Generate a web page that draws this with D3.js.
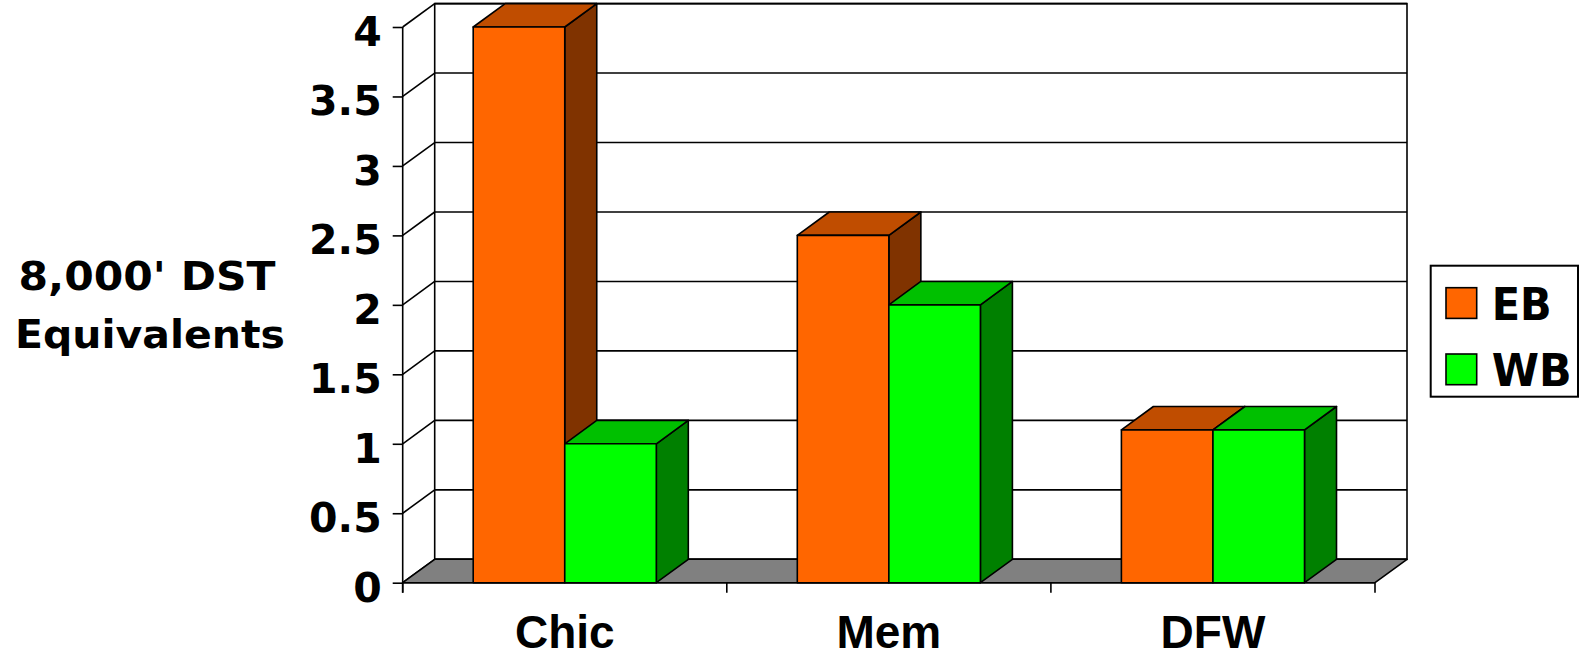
<!DOCTYPE html>
<html>
<head>
<meta charset="utf-8">
<script src="https://cdn.jsdelivr.net/npm/d3@7"></script>
<style>
  html, body { margin: 0; padding: 0; background: #fff; }
  svg { display: block; }
</style>
</head>
<body>
<svg id="chart" width="1579" height="658"></svg>
<script>
// Chart data
const categories = ["Chic", "Mem", "DFW"];
const seriesNames = ["EB", "WB"];
const ebValues = [4, 2.5, 1.1];
const wbValues = [1, 2, 1.1];
const tickValues = [0, 0.5, 1, 1.5, 2, 2.5, 3, 3.5, 4];
const yTitleLines = ["8,000' DST", "Equivalents"];

// Face colours per series: front, top, side
const palette = {
  EB: { front: "#FF6600", top: "#C04D00", side: "#803300" },
  WB: { front: "#00FF00", top: "#00C000", side: "#008000" }
};

const values = { EB: ebValues, WB: wbValues };

const svg = d3.select("#chart");

// Front plane of the 3-D box
const plotLeft = 402.7, plotRight = 1375, plotBase = 582.7, plotTop = 27;
// Depth offset of the back wall
const dx = 32, dy = -23.4;

const y = d3.scaleLinear().domain([0, 4]).range([plotBase, plotTop]);
const x0 = d3.scaleBand().domain(categories).range([plotLeft, plotRight]).padding(0);
const x1 = d3.scaleBand().domain(seriesNames).range([0, x0.bandwidth()])
  .paddingInner(0).paddingOuter(0.77);

const poly = (pts) => "M" + pts.map(p => p.join(",")).join("L") + "Z";

// Back wall
svg.append("rect")
  .attr("x", plotLeft + dx).attr("y", y(4) + dy)
  .attr("width", plotRight - plotLeft).attr("height", y(0) - y(4))
  .attr("fill", "#fff").attr("stroke", "#000").attr("stroke-width", 1.6);

// Gridlines on the back wall and matching lines on the side wall
const grid = svg.append("g").attr("stroke", "#000").attr("stroke-width", 1.6);
tickValues.forEach(v => {
  grid.append("line")
    .attr("x1", plotLeft + dx).attr("x2", plotRight + dx)
    .attr("y1", y(v) + dy).attr("y2", y(v) + dy);
  grid.append("line")
    .attr("x1", plotLeft).attr("y1", y(v))
    .attr("x2", plotLeft + dx).attr("y2", y(v) + dy);
});

// Floor
svg.append("path")
  .attr("d", poly([[plotLeft, plotBase], [plotRight, plotBase], [plotRight + dx, plotBase + dy], [plotLeft + dx, plotBase + dy]]))
  .attr("fill", "#808080").attr("stroke", "#000").attr("stroke-width", 1.6)
  .attr("stroke-linejoin", "round");

// 3-D columns
const bars = svg.append("g").attr("stroke", "#000").attr("stroke-width", 1.6)
  .attr("stroke-linejoin", "round");
categories.forEach((c, i) => {
  seriesNames.forEach(s => {
    const v = values[s][i];
    const xl = x0(c) + x1(s);
    const xr = xl + x1.bandwidth();
    const yt = y(v), yb = y(0);
    const col = palette[s];
    bars.append("path")
      .attr("d", poly([[xr, yb], [xr + dx, yb + dy], [xr + dx, yt + dy], [xr, yt]]))
      .attr("fill", col.side);
    bars.append("path")
      .attr("d", poly([[xl, yt], [xr, yt], [xr + dx, yt + dy], [xl + dx, yt + dy]]))
      .attr("fill", col.top);
    bars.append("rect")
      .attr("x", xl).attr("y", yt)
      .attr("width", xr - xl).attr("height", yb - yt)
      .attr("fill", col.front);
  });
});

// Value axis
const yAxis = svg.append("g")
  .attr("transform", `translate(${plotLeft},0)`)
  .call(d3.axisLeft(y).tickValues(tickValues).tickFormat(d3.format("~g"))
    .tickSize(10).tickSizeOuter(0).tickPadding(11));
yAxis.select(".domain").remove();
yAxis.selectAll(".tick line").attr("stroke", "#000").attr("stroke-width", 1.6);
yAxis.selectAll(".tick text")
  .attr("dy", "0.45em")
  .attr("fill", "#000")
  .style("font-family", "'DejaVu Sans', Verdana, sans-serif")
  .style("font-weight", "bold")
  .style("font-size", "41px");
svg.append("line")
  .attr("x1", plotLeft).attr("x2", plotLeft)
  .attr("y1", y(4)).attr("y2", plotBase + 10)
  .attr("stroke", "#000").attr("stroke-width", 1.6);

// Category axis
const xAxis = svg.append("g")
  .attr("transform", `translate(0,${plotBase})`);
xAxis.append("line")
  .attr("x1", plotLeft).attr("x2", plotRight)
  .attr("stroke", "#000").attr("stroke-width", 1.6);
const boundaries = categories.map(c => x0(c)).concat([plotRight]);
xAxis.selectAll("line.tk").data(boundaries).join("line")
  .attr("class", "tk")
  .attr("x1", d => d).attr("x2", d => d)
  .attr("y1", 0).attr("y2", 10)
  .attr("stroke", "#000").attr("stroke-width", 1.6);
xAxis.selectAll("text").data(categories).join("text")
  .attr("x", d => x0(d) + x0.bandwidth() / 2)
  .attr("y", 65.5)
  .attr("text-anchor", "middle")
  .style("font-family", "'Liberation Sans', Arial, sans-serif")
  .style("font-weight", "bold")
  .style("font-size", "46px")
  .text(d => d);

// Value axis title
const title = svg.append("g")
  .style("font-family", "'DejaVu Sans', Verdana, sans-serif")
  .style("font-weight", "bold")
  .style("font-size", "39px");
const titleLengths = [257, 270];
const titleCenters = [147, 150];
const titleBaselines = [290, 348];
yTitleLines.forEach((t, i) => {
  title.append("text")
    .attr("x", titleCenters[i]).attr("y", titleBaselines[i])
    .attr("text-anchor", "middle")
    .attr("textLength", titleLengths[i])
    .attr("lengthAdjust", "spacingAndGlyphs")
    .text(t);
});

// Legend
const legend = svg.append("g");
legend.append("rect")
  .attr("x", 1430.7).attr("y", 265.7)
  .attr("width", 147.3).attr("height", 131)
  .attr("fill", "#fff").attr("stroke", "#000").attr("stroke-width", 2);
const legendLengths = [60, 80];
seriesNames.forEach((s, i) => {
  const yy = 287.7 + i * 66.3;
  legend.append("rect")
    .attr("x", 1446).attr("y", yy)
    .attr("width", 30.7).attr("height", 30.7)
    .attr("fill", palette[s].front).attr("stroke", "#000").attr("stroke-width", 1.6);
  legend.append("text")
    .attr("x", 1491.7).attr("y", yy + 32.3)
    .attr("textLength", legendLengths[i])
    .attr("lengthAdjust", "spacingAndGlyphs")
    .style("font-family", "'DejaVu Sans', Verdana, sans-serif")
    .style("font-weight", "bold")
    .style("font-size", "45px")
    .text(s);
});
</script>
</body>
</html>
